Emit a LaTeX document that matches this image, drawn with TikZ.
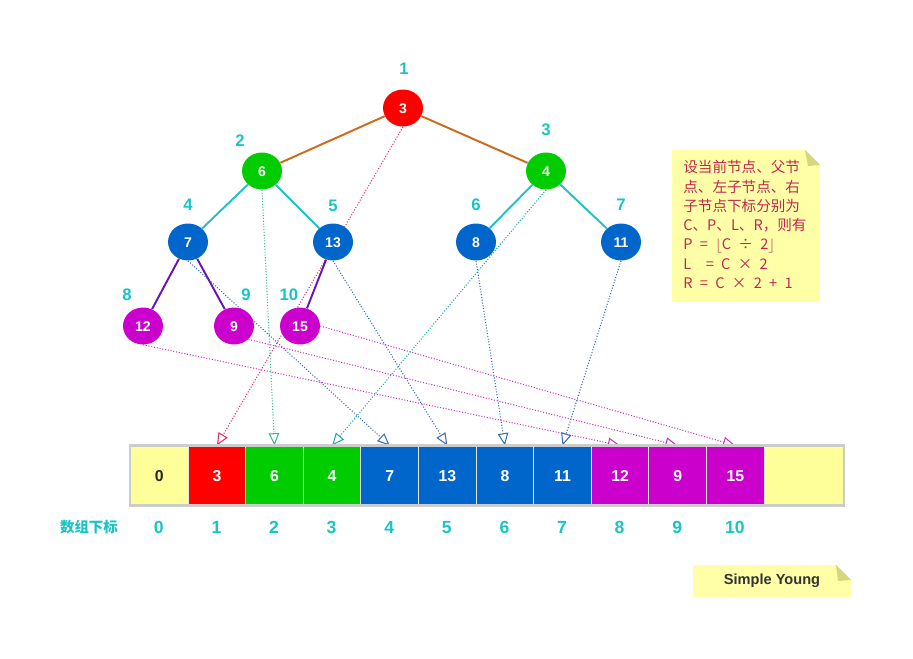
\documentclass[tikz,border=0pt]{standalone}
\usepackage{fontspec}
\setmainfont{Liberation Sans}
\newfontfamily\cjk{Noto Sans CJK SC}
\usetikzlibrary{shapes.geometric,arrows.meta,backgrounds}

\definecolor{nred}{HTML}{FF0000}
\definecolor{ngreen}{HTML}{00CC00}
\definecolor{nblue}{HTML}{0066CC}
\definecolor{nmag}{HTML}{CC00CC}
\definecolor{cellyel}{HTML}{FFFF99}
\definecolor{idxcyan}{HTML}{19C4C8}
\definecolor{edgeor}{HTML}{CC6A1A}
\definecolor{edgecy}{HTML}{22C0C8}
\definecolor{edgepu}{HTML}{6614BB}
\definecolor{notebg}{HTML}{FFFFA8}
\definecolor{notefold}{HTML}{D6D67E}
\definecolor{notetxt}{HTML}{C02850}
\definecolor{ptrred}{HTML}{E0306A}
\definecolor{ptrgreen}{HTML}{33BB88}
\definecolor{ptrteal}{HTML}{22AAAA}
\definecolor{ptrblue}{HTML}{3A6EB5}
\definecolor{ptrmag}{HTML}{CC33CC}

\tikzset{
  tnode/.style={ellipse,fill=#1,text=white,inner sep=0pt,minimum width=0.8cm,minimum height=0.74cm,text height=5.8pt,text depth=0pt,font=\bfseries\fontsize{8}{8}\selectfont},
  idx/.style={text=idxcyan,text height=6.9pt,text depth=0pt,font=\bfseries\fontsize{9.5}{9.5}\selectfont},
  aidx/.style={text=idxcyan,text height=7.2pt,text depth=0pt,font=\bfseries\fontsize{10}{10}\selectfont},
  cell/.style={rectangle,fill=#1,draw=gray!20,line width=0.6pt,anchor=west,minimum width=1.152cm,minimum height=1.18cm,text height=6.5pt,text depth=0pt,text=white,font=\bfseries\fontsize{9}{9}\selectfont},
  link/.style={draw=#1,line width=1.1pt},
  ptr/.style={draw=#1,line width=0.6pt,dash pattern=on 0.6pt off 1pt,-{Triangle[open,length=7pt,width=6pt]}}
}

\begin{document}
\begin{tikzpicture}[x=0.02cm,y=-0.02cm]

\useasboundingbox (0,0) rectangle (913,659);

\fill[notebg] (672,150) -- (805,150) -- (820,165) -- (820,302) -- (672,302) -- cycle;
\fill[notefold] (805,150) -- (820,165) -- (808,166) -- cycle;
\node[anchor=north west,inner sep=0pt,text=notetxt,align=left,font=\cjk\fontsize{8.3}{11}\selectfont] (note) at (683,160)
  {设当前节点、父节\\点、左子节点、右\\子节点下标分别为\\C、P、L、R，则有\\P\enspace=\enspace$\lfloor$C\enspace÷\enspace2$\rfloor$\\L\enspace\enspace=\enspace C\enspace×\enspace2\\R\enspace=\enspace C\enspace×\enspace2\enspace+\enspace1};

\fill[notebg] (693,565) -- (836,565) -- (851,580) -- (851,597) -- (693,597) -- cycle;
\fill[notefold] (836,565) -- (851,580) -- (838,581) -- cycle;
\node[text=black!80,font=\bfseries\fontsize{8.3}{8.3}\selectfont] (sig) at (772,581) {Simple Young};

\node[tnode=nred] (n1) at (403,108) {3};
\node[tnode=ngreen] (n2) at (262,171) {6};
\node[tnode=ngreen] (n3) at (546,171) {4};
\node[tnode=nblue] (n4) at (188,242) {7};
\node[tnode=nblue] (n5) at (333,242) {13};
\node[tnode=nblue] (n6) at (476,242) {8};
\node[tnode=nblue] (n7) at (621,242) {11};
\node[tnode=nmag] (n8) at (143,326) {12};
\node[tnode=nmag] (n9) at (234,326) {9};
\node[tnode=nmag] (n10) at (300,326) {15};

\node[idx] (i1) at (404,68) {1};
\node[idx] (i2) at (240,140) {2};
\node[idx] (i3) at (546,129) {3};
\node[idx] (i4) at (188,204) {4};
\node[idx] (i5) at (333,205) {5};
\node[idx] (i6) at (476,204) {6};
\node[idx] (i7) at (621,204) {7};
\node[idx] (i8) at (127,294) {8};
\node[idx] (i9) at (246,294) {9};
\node[idx] (i10) at (289,294) {10};

\draw[link=edgeor] (n1) -- (n2);
\draw[link=edgeor] (n1) -- (n3);
\draw[link=edgecy] (n2) -- (n4);
\draw[link=edgecy] (n2) -- (n5);
\draw[link=edgecy] (n3) -- (n6);
\draw[link=edgecy] (n3) -- (n7);
\draw[link=edgepu] (n4) -- (n8);
\draw[link=edgepu] (n4) -- (n9);
\draw[link=edgepu] (n5) -- (n10);

\node[cell=cellyel,text=black!85] (c0) at (130,475.5) {0};
\node[cell=nred] (c1) at (187.6,475.5) {3};
\node[cell=ngreen] (c2) at (245.2,475.5) {6};
\node[cell=ngreen] (c3) at (302.8,475.5) {4};
\node[cell=nblue] (c4) at (360.4,475.5) {7};
\node[cell=nblue] (c5) at (418,475.5) {13};
\node[cell=nblue] (c6) at (475.6,475.5) {8};
\node[cell=nblue] (c7) at (533.2,475.5) {11};
\node[cell=nmag] (c8) at (590.8,475.5) {12};
\node[cell=nmag] (c9) at (648.4,475.5) {9};
\node[cell=nmag] (c10) at (706,475.5) {15};
\node[cell=cellyel,minimum width=1.588cm] (c11) at (763.6,475.5) {};
\draw[gray!40,line width=1.5pt] (c0.north west) rectangle (c11.south east);

\begin{scope}[on background layer]
\draw[ptr=ptrred] (n1.south) -- (c1.north);
\draw[ptr=ptrgreen] (n2.south) -- (c2.north);
\draw[ptr=ptrteal] (n3.south) -- (c3.north);
\draw[ptr=ptrblue] (n4.south) -- (c4.north);
\draw[ptr=ptrblue] (n5.south) -- (c5.north);
\draw[ptr=ptrblue] (n6.south) -- (c6.north);
\draw[ptr=ptrblue] (n7.south) -- (c7.north);
\draw[ptr=ptrmag] (n8.south) -- (c8.north);
\draw[ptr=ptrmag] (n9.south east) -- (c9.north);
\draw[ptr=ptrmag] (n10.east) -- (c10.north);
\end{scope}

\node[text=idxcyan,font=\cjk\bfseries\fontsize{8.2}{8.2}\selectfont] (lbl) at (89,527) {数组下标};
\node[aidx] (x0) at (158.8,527) {0};
\node[aidx] (x1) at (216.4,527) {1};
\node[aidx] (x2) at (274,527) {2};
\node[aidx] (x3) at (331.6,527) {3};
\node[aidx] (x4) at (389.2,527) {4};
\node[aidx] (x5) at (446.8,527) {5};
\node[aidx] (x6) at (504.4,527) {6};
\node[aidx] (x7) at (562,527) {7};
\node[aidx] (x8) at (619.6,527) {8};
\node[aidx] (x9) at (677.2,527) {9};
\node[aidx] (x10) at (734.8,527) {10};

\end{tikzpicture}
\end{document}
